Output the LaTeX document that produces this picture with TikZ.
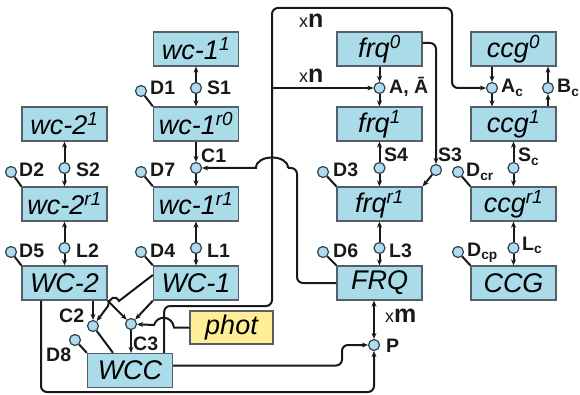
\documentclass[tikz,border=0pt]{standalone}
\usepackage{fontspec}
\setmainfont{Liberation Sans}
\usetikzlibrary{arrows.meta}
\definecolor{boxfill}{RGB}{170,219,233}
\definecolor{boxline}{RGB}{85,95,105}
\definecolor{dotfill}{RGB}{175,220,235}
\definecolor{dotline}{RGB}{45,65,85}
\definecolor{photfill}{RGB}{255,238,150}
\definecolor{linecol}{RGB}{25,25,25}
\newcommand\boxfnt{\fontsize{27}{27}\selectfont\itshape}
\newcommand\labfnt{\fontsize{19.5}{19.5}\selectfont\bfseries}
\newcommand\sups[1]{\textsuperscript{#1}}
\newcommand\subs[1]{\textsubscript{#1}}
\newcommand\xtimes[1]{{\fontsize{18}{18}\selectfont\mdseries x}{\fontsize{25}{25}\selectfont\bfseries #1}}
\begin{document}
\begin{tikzpicture}[x=1pt,y=-1pt,
  box/.style={draw=boxline, fill=boxfill, line width=1.3pt, minimum width=85pt, minimum height=34pt, inner sep=0pt, font=\boxfnt},
  dot/.style={circle, draw=dotline, fill=dotfill, line width=1.2pt, minimum size=11pt, inner sep=0pt},
  lab/.style={font=\labfnt, inner sep=0pt, anchor=base west, text=linecol},
  ln/.style={line width=2pt, draw=linecol},
  arr/.style={ln, -{Stealth[length=6pt,width=5pt]}},
  darr/.style={ln, {Stealth[length=6pt,width=5pt]}-{Stealth[length=6pt,width=5pt]}}]
\useasboundingbox (0,0) rectangle (580,395);

% boxes
\node[box] (wc11) at (196,49) {wc-1\sups{1}};
\node[box] (wc1r0) at (196,124) {wc-1\sups{r0}};
\node[box] (wc1r1) at (196,204) {wc-1\sups{r1}};
\node[box] (WC1) at (196,283) {WC-1};
\node[box] (wc21) at (64.5,124) {wc-2\sups{1}};
\node[box] (wc2r1) at (64.5,204) {wc-2\sups{r1}};
\node[box] (WC2) at (64.5,283) {WC-2};
\node[box] (WCC) at (130,370.5) {WCC};
\node[box, fill=photfill, minimum width=83pt, minimum height=33pt] (phot) at (231.5,327.5) {phot};
\node[box] (frq0) at (379.5,49) {frq\sups{0}};
\node[box] (frq1) at (379.5,124) {frq\sups{1}};
\node[box] (frqr1) at (379.5,204) {frq\sups{r1}};
\node[box] (FRQ) at (379.5,283) {FRQ};
\node[box] (ccg0) at (513.5,49) {ccg\sups{0}};
\node[box] (ccg1) at (513.5,124) {ccg\sups{1}};
\node[box] (ccgr1) at (513.5,204) {ccg\sups{r1}};
\node[box] (CCG) at (513.5,283) {CCG};

% small circles
\node[dot] (S1) at (196,88) {};
\node[dot] (D1) at (141,91) {};
\node[dot] (C1) at (196,168) {};
\node[dot] (D7) at (141,172) {};
\node[dot] (L1) at (196,248) {};
\node[dot] (D4) at (141,252) {};
\node[dot] (S2) at (64.5,168) {};
\node[dot] (D2) at (11,172) {};
\node[dot] (L2) at (64.5,248) {};
\node[dot] (D5) at (11,252) {};
\node[dot] (A) at (379.5,88) {};
\node[dot] (S4) at (379.5,168) {};
\node[dot] (D3) at (323,172) {};
\node[dot] (S3) at (436,170) {};
\node[dot] (L3) at (379.5,248) {};
\node[dot] (D6) at (323,252) {};
\node[dot] (Ac) at (492,88) {};
\node[dot] (Bc) at (548,88) {};
\node[dot] (Sc) at (513.5,168) {};
\node[dot] (Dcr) at (458,172) {};
\node[dot] (Lc) at (513.5,248) {};
\node[dot] (Dcp) at (458,252) {};
\node[dot] (P) at (374,345) {};
\node[dot] (C2) at (93,326) {};
\node[dot] (C3) at (131,324) {};
\node[dot] (D8) at (75,340) {};

% labels
\node[lab] (tD1) at (150,95) {D1};
\node[lab] (tS1) at (207,95) {S1};
\node[lab] (tD2) at (19,177) {D2};
\node[lab] (tS2) at (76,177) {S2};
\node[lab] (tD7) at (150,177) {D7};
\node[lab] (tC1) at (201,163) {C1};
\node[lab] (tD5) at (19,257) {D5};
\node[lab] (tL2) at (76,257) {L2};
\node[lab] (tD4) at (150,257) {D4};
\node[lab] (tL1) at (207,257) {L1};
\node[lab] (tA) at (389,94) {A, Ā};
\node[lab] (tS4) at (384,162) {S4};
\node[lab] (tS3) at (438,162) {S3};
\node[lab] (tD3) at (333,177) {D3};
\node[lab] (tDcr) at (466,177) {D\subs{cr}};
\node[lab] (tSc) at (518,162) {S\subs{c}};
\node[lab] (tAc) at (501,93) {A\subs{c}};
\node[lab] (tBc) at (557,93) {B\subs{c}};
\node[lab] (tL3) at (389,257) {L3};
\node[lab] (tD6) at (333,257) {D6};
\node[lab] (tDcp) at (467,256) {D\subs{cp}};
\node[lab] (tLc) at (522,250) {L\subs{c}};
\node[lab] (txm) at (385,322) {\xtimes{m}};
\node[lab] (tP) at (386,352) {P};
\node[lab] (txn1) at (299,28) {\xtimes{n}};
\node[lab] (txn2) at (299,83) {\xtimes{n}};
\node[lab] (tC2) at (59,322) {C2};
\node[lab] (tC3) at (133,350) {C3};
\node[lab] (tD8) at (46,361) {D8};

% wc-1 column
\draw[arr] (S1) -- (wc11);
\draw[arr] (S1) -- (wc1r0);
\draw[ln] (D1) -- (wc1r0.north west);
\draw[arr] (wc1r0) -- (C1);
\draw[arr] (C1) -- (wc1r1);
\draw[ln] (D7) -- (wc1r1.north west);
\draw[arr] (L1) -- (wc1r1);
\draw[arr] (L1) -- (WC1);
\draw[ln] (D4) -- (WC1.north west);
% wc-2 column
\draw[arr] (S2) -- (wc21);
\draw[arr] (S2) -- (wc2r1);
\draw[ln] (D2) -- (wc2r1.north west);
\draw[arr] (L2) -- (wc2r1);
\draw[arr] (L2) -- (WC2);
\draw[ln] (D5) -- (WC2.north west);
% frq column
\draw[arr] (frq0) -- (A);
\draw[arr] (A) -- (frq1);
\draw[arr] (S4) -- (frq1);
\draw[arr] (S4) -- (frqr1);
\draw[ln] (D3) -- (frqr1.north west);
\draw[arr] (L3) -- (frqr1);
\draw[arr] (L3) -- (FRQ);
\draw[ln] (D6) -- (FRQ.north west);
\draw[arr, rounded corners=6pt] ([yshift=6pt]frq0.east) -| (S3);
\draw[arr] (S3) -- (frqr1.north east);
% ccg column
\draw[arr] (Ac |- ccg0.south) -- (Ac);
\draw[arr] (Ac) -- (Ac |- ccg1.north);
\draw[arr] (Bc |- ccg1.north) -- (Bc);
\draw[arr] (Bc) -- (Bc |- ccg0.south);
\draw[arr] (Sc) -- (ccg1);
\draw[arr] (Sc) -- (ccgr1);
\draw[ln] (Dcr) -- (ccgr1.north west);
\draw[arr] (Lc) -- (ccgr1);
\draw[arr] (Lc) -- (CCG);
\draw[ln] (Dcp) -- (CCG.north west);

% WCC -> A and A_c (x n)
\coordinate (vb) at (272,306);
\coordinate (vt) at (272,8);
\coordinate (ht) at (452,8);
\coordinate (hd) at (452,88);
\draw[arr, rounded corners=6pt] ([xshift=-9pt]WCC.north east) |- (vb) -- (vt) -- (ht) -- (hd) -- (Ac);
\draw[arr] (vt |- A) -- (A);

% FRQ -> C1 with hop
\coordinate (fc) at (297,168);
\coordinate (hopR) at (288,168);
\coordinate (hopL) at (256,168);
\draw[ln, rounded corners=6pt] (FRQ.west) -| (fc) -- (hopR);
\draw[arr] (hopR) .. controls (288,154) and (256,154) .. (hopL) -- (C1);

% P connections
\coordinate (Pst) at (342,345);
\coordinate (ybot) at (0,392);
\draw[arr, rounded corners=6pt] ([yshift=5pt]WCC.east) -| (Pst) -- (P);
\draw[arr, rounded corners=6pt] ([xshift=-23.5pt]WC2.south) |- (P |- ybot) -- (P);
\draw[darr] (P |- FRQ.south) -- (P);

% WC-1 / WC-2 / WCC network
\coordinate (h1) at (119,301);
\coordinate (h2) at (108,306);
\draw[arr] (C2 |- WC2.south) -- (C2);
\draw[arr] (WC2.south east) -- (C3);
\draw[arr] (WC1.south west) -- (C3);
\draw[arr] ([yshift=8pt]WC1.west) -- (h1) .. controls (116,295) and (109,297) .. (h2) -- (C2);
\draw[ln] (C2) -- ([xshift=-17pt]WCC.north);
\draw[arr] (C3) -- (C3 |- WCC.north);
\draw[ln] (D8) -- (WCC.north west);
\coordinate (pr) at (174,327.5);
\coordinate (pl) at (154,325);
\draw[arr] (phot.west) -- (pr) .. controls (172,315) and (157,315) .. (pl) -- (C3);
\end{tikzpicture}
\end{document}
